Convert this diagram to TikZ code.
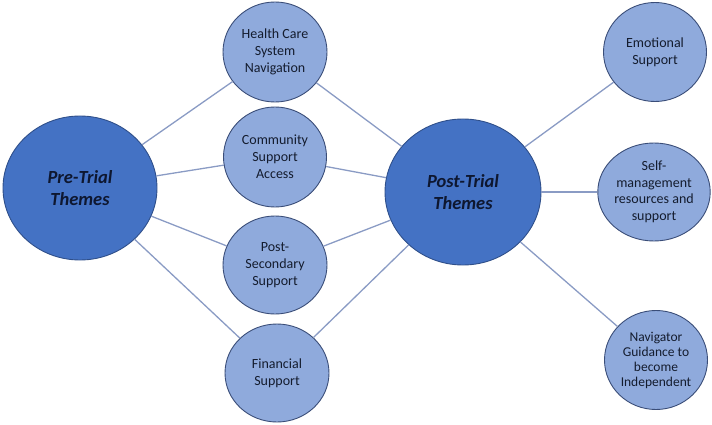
\documentclass[tikz,border=0pt]{standalone}
\usepackage{fontspec}
\setmainfont{Carlito}
\usetikzlibrary{shapes.geometric}
\definecolor{bigfill}{HTML}{4472C4}
\definecolor{bigdraw}{HTML}{2F4F8A}
\definecolor{smallfill}{HTML}{8FAADC}
\definecolor{smalldraw}{HTML}{3A4D78}
\definecolor{linkcol}{HTML}{8A9BC4}
\definecolor{bigtext}{HTML}{0E1730}
\definecolor{smalltext}{HTML}{141C2E}
\tikzset{
  bignode/.style={ellipse, fill=bigfill, draw=bigdraw, line width=0.9pt, inner sep=0pt,
    align=center, text=bigtext, font=\fontsize{18.5}{22}\selectfont\bfseries\itshape},
  smallnode/.style={ellipse, fill=smallfill, draw=smalldraw, line width=0.9pt, inner sep=0pt,
    align=center, text=smalltext, font=\fontsize{14}{17}\selectfont},
  link/.style={draw=linkcol, line width=1.3pt}
}
\begin{document}
\begin{tikzpicture}[x=1pt,y=-1pt]
\useasboundingbox (0,0) rectangle (712,425);
\node[bignode, minimum width=154pt, minimum height=144pt] (pre) at (80,188) {Pre-Trial\\Themes};
\node[bignode, minimum width=156pt, minimum height=146pt] (post) at (463,192) {Post-Trial\\Themes};
\node[smallnode, minimum width=104pt, minimum height=100pt] (hc) at (275,52) {Health Care\\System\\Navigation};
\node[smallnode, minimum width=103pt, minimum height=100pt] (cs) at (275,157) {Community\\Support\\Access};
\node[smallnode, minimum width=104pt, minimum height=98pt] (ps) at (275,265) {Post-\\Secondary\\Support};
\node[smallnode, minimum width=104pt, minimum height=98pt] (fs) at (277,373) {Financial\\Support};
\node[smallnode, minimum width=103pt, minimum height=99pt] (emo) at (655,52) {Emotional\\Support};
\node[smallnode, minimum width=102pt, minimum height=98pt, font=\fontsize{14}{16.5}\selectfont] (self) at (654,192) {Self-\\management\\resources and\\support};
\node[smallnode, minimum width=103pt, minimum height=99pt, font=\fontsize{13.5}{15}\selectfont] (nav) at (656,360) {Navigator\\Guidance to\\become\\Independent};
\draw[link] (pre) -- (hc);
\draw[link] (pre) -- (cs);
\draw[link] (pre) -- (ps);
\draw[link] (pre) -- (fs);
\draw[link] (hc) -- (post);
\draw[link] (cs) -- (post);
\draw[link] (ps) -- (post);
\draw[link] (fs) -- (post);
\draw[link] (post) -- (emo);
\draw[link] (post) -- (self);
\draw[link] (post) -- (nav);
\end{tikzpicture}
\end{document}
